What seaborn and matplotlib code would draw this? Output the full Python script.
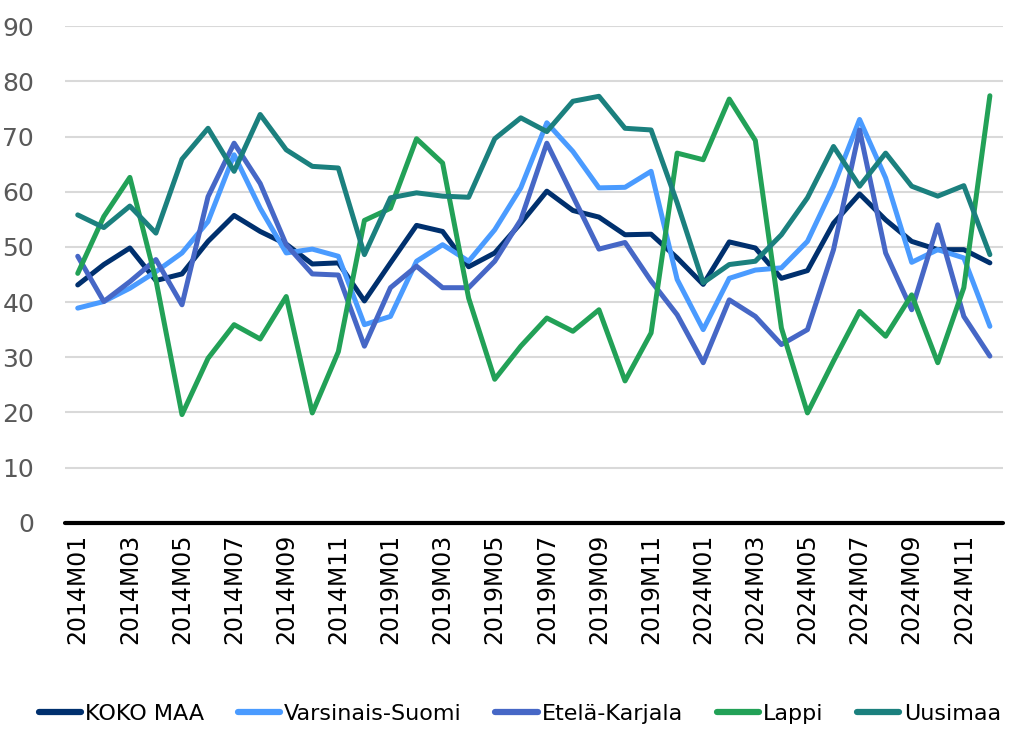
"""Regional index, 2014 / 2019 / 2024 monthly comparison."""

import numpy as np
import pandas as pd
import matplotlib
matplotlib.use("Agg")
import matplotlib.pyplot as plt
import seaborn as sns
from matplotlib import font_manager

# --- data -----------------------------------------------------------------
years = ["2014", "2019", "2024"]
months = [f"M{m:02d}" for m in range(1, 13)]
periods = [y + m for y in years for m in months]

koko_maa = [43.1, 46.8, 49.8, 43.9, 45.1, 51.0, 55.7, 52.8, 50.5, 46.9, 47.1, 40.2,
            47.1, 53.9, 52.8, 46.4, 48.9, 54.3, 60.1, 56.6, 55.4, 52.2, 52.3, 48.0,
            43.2, 50.9, 49.8, 44.3, 45.7, 54.3, 59.6, 54.9, 51.0, 49.5, 49.5, 47.1]
varsinais_suomi = [38.9, 40.1, 42.5, 45.5, 48.9, 54.6, 66.7, 57.0, 48.9, 49.6, 48.3, 35.9,
                   37.4, 47.4, 50.4, 47.4, 53.1, 60.7, 72.5, 67.3, 60.7, 60.8, 63.7, 44.1,
                   35.0, 44.3, 45.8, 46.2, 51.0, 61.0, 73.1, 62.5, 47.2, 49.5, 48.0, 35.6]
etela_karjala = [48.3, 40.1, 43.7, 47.7, 39.5, 59.1, 68.8, 61.5, 50.4, 45.1, 44.9, 32.0,
                 42.6, 46.5, 42.6, 42.6, 47.4, 54.9, 68.8, 59.2, 49.6, 50.8, 43.8, 37.7,
                 29.0, 40.4, 37.4, 32.3, 35.0, 49.5, 71.2, 48.9, 38.6, 54.0, 37.4, 30.2]
lappi = [45.2, 55.5, 62.6, 44.0, 19.6, 29.8, 35.9, 33.3, 41.0, 19.9, 31.0, 54.8,
         57.0, 69.6, 65.2, 40.7, 26.0, 32.0, 37.1, 34.7, 38.6, 25.7, 34.4, 67.0,
         65.8, 76.8, 69.3, 35.3, 19.9, 29.3, 38.3, 33.8, 41.3, 29.0, 42.6, 77.4]
uusimaa = [55.8, 53.5, 57.4, 52.5, 65.9, 71.5, 63.7, 74.0, 67.6, 64.6, 64.3, 48.6,
           58.9, 59.8, 59.2, 59.0, 69.6, 73.4, 70.9, 76.4, 77.3, 71.5, 71.2, 58.0,
           43.5, 46.8, 47.4, 52.2, 58.9, 68.2, 61.0, 67.0, 61.0, 59.2, 61.1, 48.6]

series_names = ["KOKO MAA", "Varsinais-Suomi", "Etelä-Karjala", "Lappi", "Uusimaa"]
series_values = [koko_maa, varsinais_suomi, etela_karjala, lappi, uusimaa]
colors = ["#00306E", "#4A9BFF", "#4667C6", "#22A157", "#1B807E"]

y_ticks = list(range(0, 100, 10))

# long-form table for seaborn
df = pd.concat(
    [pd.DataFrame({"idx": np.arange(len(periods)), "period": periods,
                   "value": vals, "series": name})
     for name, vals in zip(series_names, series_values)],
    ignore_index=True,
)

# --- plot -----------------------------------------------------------------
sns.set_theme(style="white")
plt.rcParams["font.family"] = ["DejaVu Sans"]

# condensed face for the legend if it is there
installed = {f.name for f in font_manager.fontManager.ttflist}
legend_family = "DejaVu Sans Condensed" if "DejaVu Sans Condensed" in installed else "DejaVu Sans"
legend_size = 18 if legend_family == "DejaVu Sans Condensed" else 16

fig = plt.figure(figsize=(10.11, 7.29), dpi=100)
ax = fig.add_axes([0.064, 0.283, 0.928, 0.681])

sns.lineplot(data=df, x="idx", y="value", hue="series",
             hue_order=series_names, palette=colors,
             linewidth=3.6, ax=ax, legend=True)

# gridlines
ax.set_yticks(y_ticks)
ax.yaxis.grid(True, color="#d9d9d9", linewidth=1.5)
ax.set_axisbelow(True)
ax.set_ylim(0, 90)
ax.set_xlim(-0.5, len(periods) - 0.5)
ax.axhline(0, color="black", lw=3, zorder=5, clip_on=False)

for side in ["top", "right", "left", "bottom"]:
    ax.spines[side].set_visible(False)

ax.set_xticks(np.arange(0, len(periods), 2))
ax.set_xticklabels(periods[::2], rotation=90, fontsize=17, color="black")
ax.tick_params(axis="y", labelsize=18, labelcolor="#595959", length=0, pad=22)
ax.tick_params(axis="x", length=0, pad=8)
ax.set_xlabel("")
ax.set_ylabel("")

handles, labels = ax.get_legend_handles_labels()
leg = ax.legend(handles, labels, loc="lower center", bbox_to_anchor=(0.485, -0.445),
                ncol=5, frameon=False, handlelength=1.9,
                handletextpad=0.2, columnspacing=1.5,
                prop={"family": legend_family, "size": legend_size})
for txt in leg.get_texts():
    txt.set_color("black")
for line in leg.get_lines():
    line.set_linewidth(4.5)
    line.set_solid_capstyle("round")

plt.savefig("out.png", dpi=100)
